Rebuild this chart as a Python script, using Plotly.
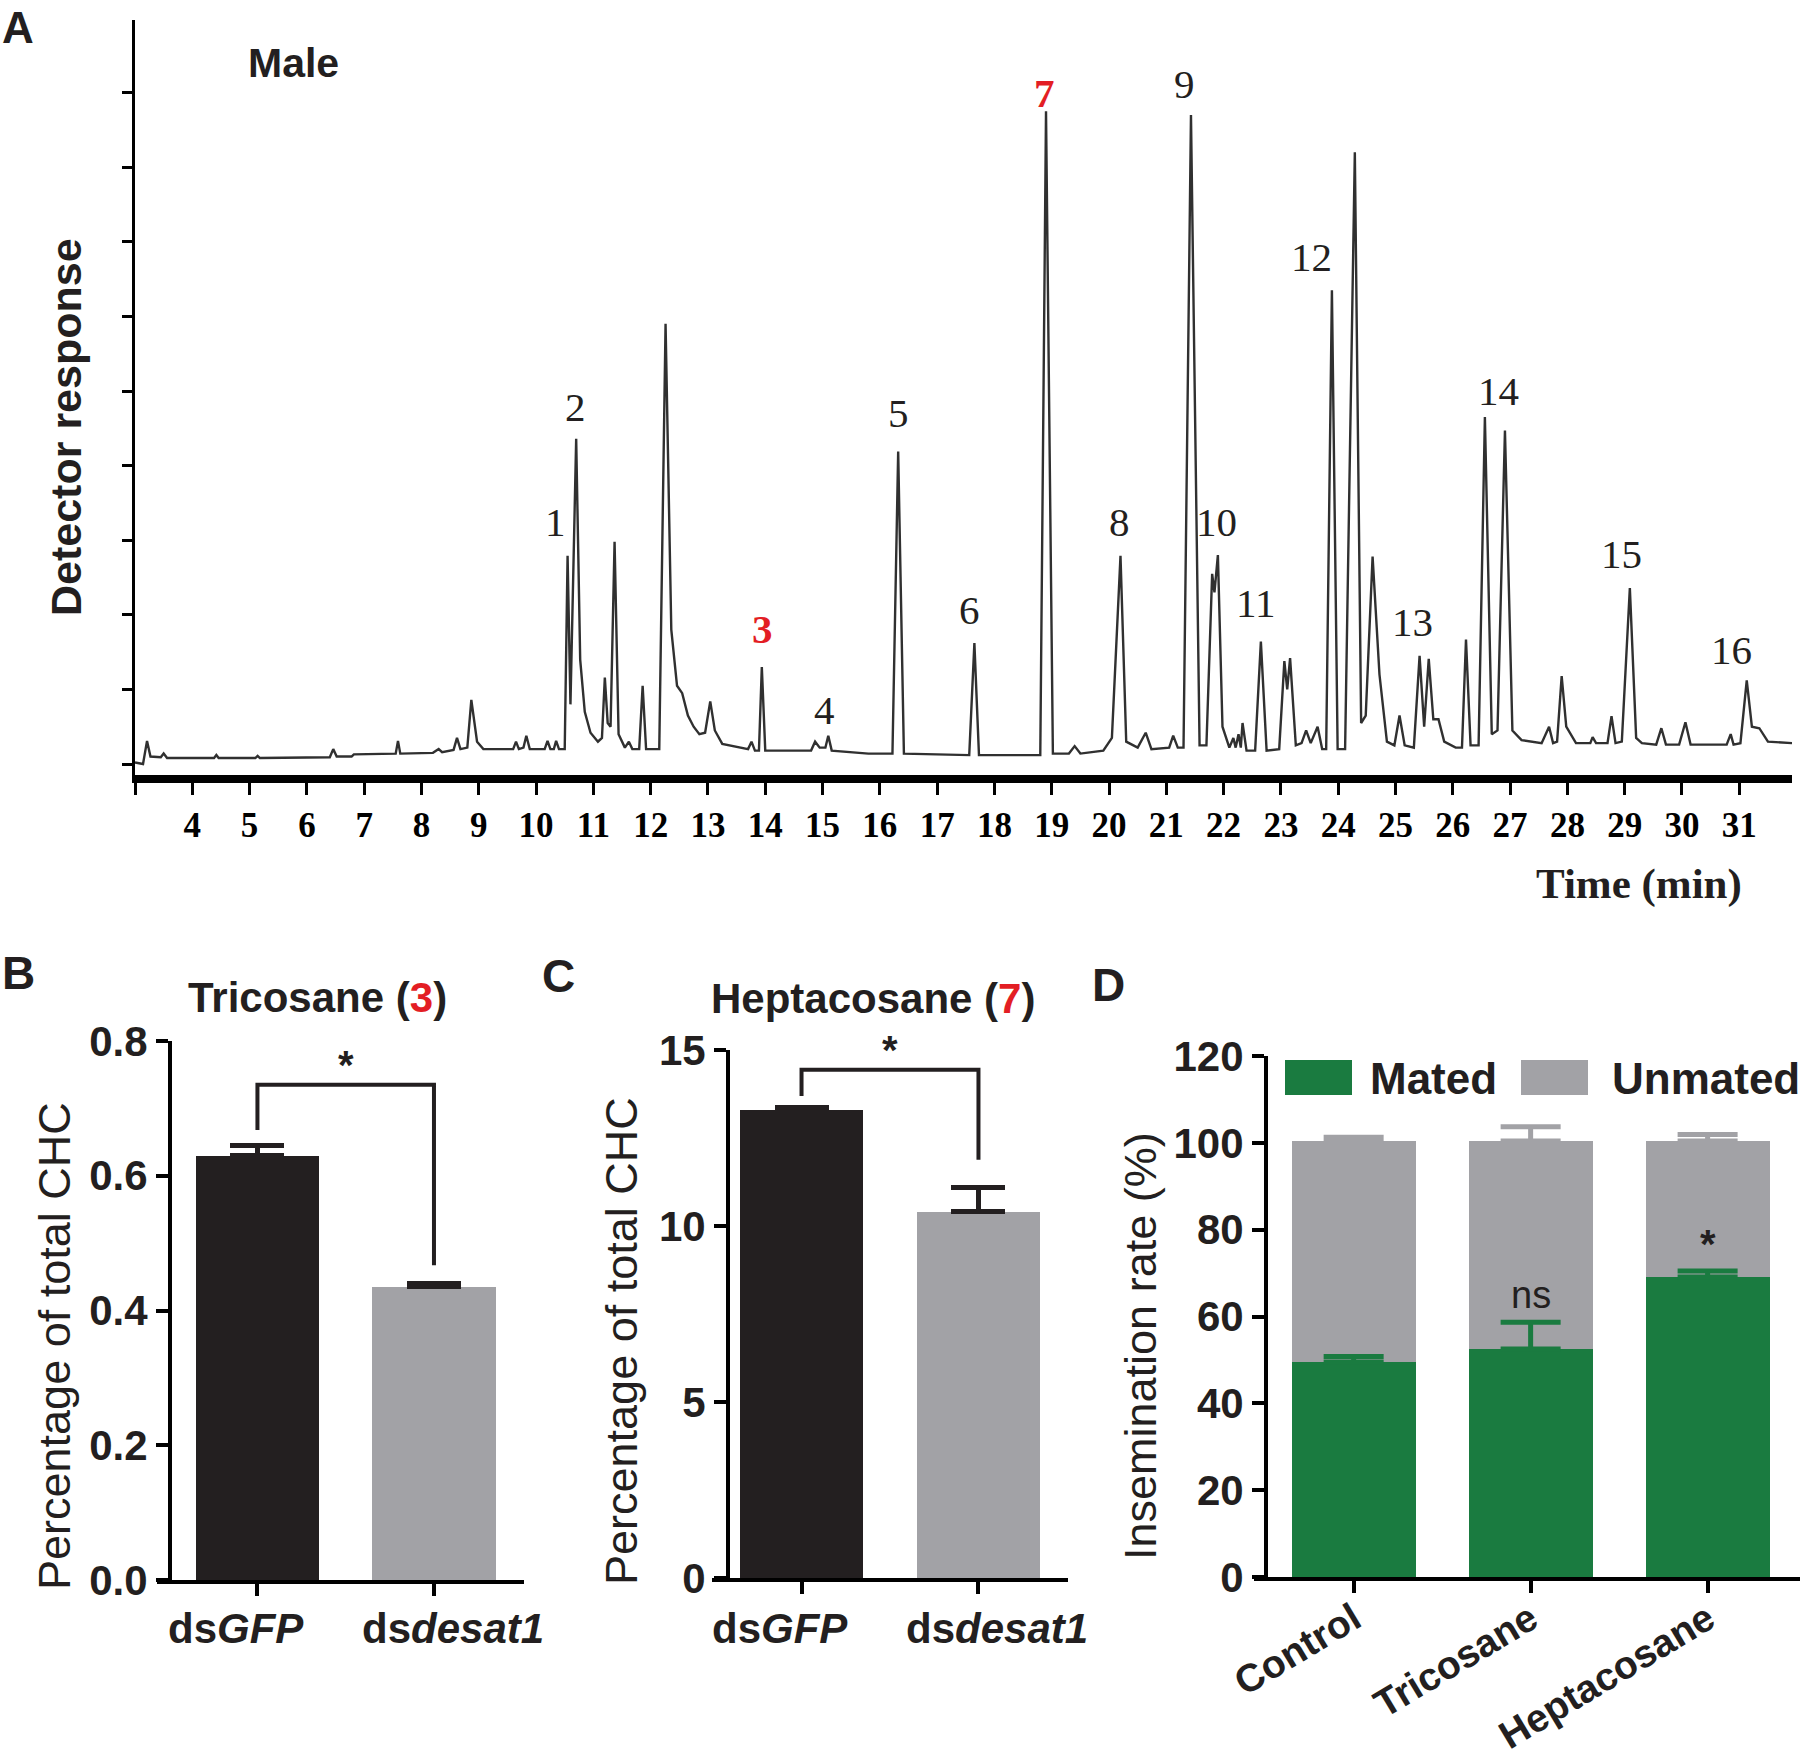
import plotly.graph_objects as go

W, H = 1800, 1749
RED = '#e31e24'
GREEN = '#1a7b40'
GRAY = '#a2a2a6'
BLACK = '#231f20'
SANS = 'Liberation Sans'
SERIF = 'Liberation Serif'

# ---------------- Panel A : chromatogram (vertices) ----------------
time_min = [3.00, 3.14, 3.21, 3.27, 3.45, 3.50, 3.56, 4.38, 4.42, 4.46, 5.10, 5.14, 5.18, 6.40, 6.46, 6.52,
            6.78, 6.82, 7.55, 7.59, 7.63, 8.20, 8.30, 8.36, 8.56, 8.62, 8.68, 8.80, 8.87, 8.97, 9.08, 9.60,
            9.65, 9.70, 9.78, 9.83, 9.89, 10.15, 10.20, 10.25, 10.31, 10.35, 10.40, 10.50, 10.55, 10.60,
            10.70, 10.77, 10.85, 10.95, 11.08, 11.15, 11.20, 11.25, 11.30, 11.37, 11.44, 11.55, 11.62,
            11.68, 11.80, 11.86, 11.92, 12.15, 12.26, 12.36, 12.46, 12.55, 12.65, 12.75, 12.85, 12.95,
            13.04, 13.12, 13.25, 13.70, 13.76, 13.82, 13.89, 13.94, 14.00, 14.80, 14.87, 14.95, 15.05,
            15.10, 15.16, 15.50, 15.80, 16.22, 16.32, 16.42, 17.20, 17.56, 17.65, 17.73, 18.80, 18.90,
            19.02, 19.30, 19.40, 19.50, 19.90, 20.05, 20.20, 20.30, 20.50, 20.64, 20.74, 21.05, 21.12,
            21.20, 21.30, 21.43, 21.58, 21.70, 21.80, 21.84, 21.90, 21.98, 22.10, 22.17, 22.21, 22.26,
            22.30, 22.33, 22.40, 22.55, 22.65, 22.75, 22.97, 23.06, 23.11, 23.16, 23.26, 23.36, 23.44,
            23.52, 23.64, 23.72, 23.79, 23.89, 23.99, 24.12, 24.29, 24.40, 24.48, 24.60, 24.72, 24.85,
            24.98, 25.07, 25.16, 25.32, 25.42, 25.50, 25.58, 25.66, 25.75, 25.85, 26.05, 26.16, 26.23,
            26.31, 26.45, 26.56, 26.68, 26.78, 26.91, 27.04, 27.20, 27.55, 27.68, 27.75, 27.82, 27.90,
            27.98, 28.15, 28.40, 28.44, 28.50, 28.70, 28.77, 28.84, 28.95, 29.09, 29.20, 29.30, 29.55,
            29.64, 29.72, 29.95, 30.06, 30.15, 30.78, 30.85, 30.90, 31.02, 31.13, 31.22, 31.35, 31.50,
            31.92]
response = [0.02, 0.00, 0.31, 0.10, 0.09, 0.14, 0.08, 0.08, 0.12, 0.08, 0.08, 0.11, 0.08, 0.09, 0.20, 0.10,
            0.10, 0.13, 0.14, 0.31, 0.14, 0.15, 0.20, 0.16, 0.19, 0.35, 0.20, 0.22, 0.86, 0.30, 0.20, 0.20,
            0.30, 0.20, 0.22, 0.38, 0.20, 0.20, 0.31, 0.20, 0.20, 0.31, 0.20, 0.20, 2.79, 0.80,
            4.36, 1.40, 0.70, 0.42, 0.30, 0.35, 1.16, 0.55, 0.50, 2.98, 0.40, 0.22, 0.30,
            0.20, 0.20, 1.05, 0.20, 0.20, 5.90, 1.80, 1.05, 0.95, 0.65, 0.50, 0.40, 0.42,
            0.84, 0.45, 0.27, 0.20, 0.30, 0.18, 0.18, 1.30, 0.18, 0.18, 0.30, 0.22, 0.22,
            0.38, 0.18, 0.16, 0.14, 0.14, 4.19, 0.14, 0.12, 0.12, 1.62, 0.12, 0.12, 8.75,
            0.14, 0.14, 0.24, 0.14, 0.18, 0.35, 2.79, 0.30, 0.22, 0.42, 0.20, 0.22, 0.38,
            0.22, 0.22, 8.70, 0.25, 0.25, 2.55, 2.30, 2.80, 0.50, 0.22, 0.35, 0.22, 0.40,
            0.22, 0.55, 0.18, 0.18, 1.64, 0.18, 0.20, 1.38, 1.00, 1.42, 0.25, 0.28, 0.45,
            0.28, 0.50, 0.20, 0.20, 6.35, 0.20, 0.20, 8.20, 0.55, 0.65, 2.78, 1.20, 0.30,
            0.25, 0.65, 0.25, 0.22, 1.45, 0.50, 1.41, 0.60, 0.60, 0.30, 0.22, 0.22, 1.67,
            0.25, 0.25, 4.65, 0.40, 0.45, 4.47, 0.45, 0.32, 0.28, 0.50, 0.28, 0.30, 1.18,
            0.50, 0.28, 0.28, 0.36, 0.28, 0.28, 0.64, 0.28, 0.30, 2.36, 0.35, 0.28, 0.26,
            0.48, 0.26, 0.26, 0.56, 0.26, 0.26, 0.40, 0.26, 0.28, 1.12, 0.50, 0.48, 0.30,
            0.28]

peak_names = ['1', '2', '3', '4', '5', '6', '7', '8', '9', '10', '11', '12', '13', '14', '15', '16']
peak_label_t = [10.34, 10.68, 13.95, 15.03, 16.33, 17.57, 18.88, 20.18, 21.32, 21.88, 22.56, 23.54,
                25.29, 26.79, 28.95, 30.87]
peak_label_y = [3.24, 4.78, 1.81, 0.73, 4.70, 2.07, 9.00, 3.24, 9.12, 3.24, 2.16, 6.79, 1.90, 5.00,
                2.81, 1.53]
highlight_peaks = ['3', '7']
time_ticks = list(range(3, 32))
time_tick_text = [''] + [str(t) for t in range(4, 32)]
response_ticks = list(range(0, 10))

# ---------------- Panel B / C ----------------
bc_labels = ['<b>ds<i>GFP</i></b>', '<b>ds<i>desat1</i></b>']
bc_label_x = [-0.12, 1.105]
b_means = [0.63, 0.435]
b_sem = [0.015, 0.005]
b_ticks = [0.0, 0.2, 0.4, 0.6, 0.8]
b_bracket = [0.668, 0.735, 0.467]   # left foot, top, right foot
b_star_y = 0.765

c_means = [13.3, 10.4]
c_sem = [0.06, 0.7]
c_ticks = [0, 5, 10, 15]
c_bracket = [13.69, 14.44, 11.88]
c_star_y = 15.0

# ---------------- Panel D ----------------
d_groups = ['Control', 'Tricosane', 'Heptacosane']
d_mated = [49.5, 52.5, 69.1]
d_mated_err = [1.3, 6.2, 1.4]
d_unmated = [50.9, 47.9, 31.3]
d_unmated_err = [0.9, 3.3, 1.5]
d_ticks = [0, 20, 40, 60, 80, 100, 120]
d_marks = ['', 'ns', '*']
d_marks_y = [0, 65.0, 76.6]


def px_x(p):
    return p / W


def px_y(p):
    return 1 - p / H


fig = go.Figure()

# Panel A trace
fig.add_trace(go.Scatter(x=time_min, y=response, mode='lines', line=dict(color='#303030', width=2.4),
                         xaxis='x', yaxis='y', showlegend=False, hoverinfo='skip'))

# Panel B bars
fig.add_trace(go.Bar(x=[0, 1], y=b_means, width=0.7, marker=dict(color=[BLACK, GRAY], line=dict(width=0)),
                     error_y=dict(type='data', array=b_sem, arrayminus=[0, 0], symmetric=False,
                                  color=BLACK, thickness=5, width=27),
                     xaxis='x2', yaxis='y2', showlegend=False))
# Panel C bars
fig.add_trace(go.Bar(x=[0, 1], y=c_means, width=0.7, marker=dict(color=[BLACK, GRAY], line=dict(width=0)),
                     error_y=dict(type='data', array=c_sem, arrayminus=[0, 0], symmetric=False,
                                  color=BLACK, thickness=5, width=27),
                     xaxis='x3', yaxis='y3', showlegend=False))
# Panel D stacked bars
dx = [0, 1, 2]
fig.add_trace(go.Bar(x=dx, y=d_mated, width=0.7, marker=dict(color=GREEN, line=dict(width=0)),
                     xaxis='x4', yaxis='y4', showlegend=False, name='Mated'))
fig.add_trace(go.Bar(x=dx, y=d_unmated, width=0.7, marker=dict(color=GRAY, line=dict(width=0)),
                     xaxis='x4', yaxis='y4', showlegend=False, name='Unmated'))
d_total = [m + u for m, u in zip(d_mated, d_unmated)]
fig.add_trace(go.Scatter(x=dx, y=d_total, mode='markers', marker=dict(size=2, opacity=0),
                         error_y=dict(type='data', array=d_unmated_err, arrayminus=[0, 0, 0], symmetric=False,
                                      color=GRAY, thickness=5, width=30),
                         xaxis='x4', yaxis='y4', showlegend=False, hoverinfo='skip'))
fig.add_trace(go.Scatter(x=dx, y=d_mated, mode='markers', marker=dict(size=2, opacity=0),
                         error_y=dict(type='data', array=d_mated_err, arrayminus=[0, 0, 0], symmetric=False,
                                      color=GREEN, thickness=5, width=30),
                         xaxis='x4', yaxis='y4', showlegend=False, hoverinfo='skip'))

axis_common = dict(showgrid=False, zeroline=False, showline=True, linecolor='black', ticks='outside',
                   tickcolor='black', automargin=False)

sans_tick = dict(family=SANS, size=42, color=BLACK)

fig.update_layout(
    template='none',
    width=W, height=H, margin=dict(l=0, r=0, t=0, b=0, pad=0, autoexpand=False),
    paper_bgcolor='white', plot_bgcolor='white', showlegend=False, barmode='stack',
    xaxis=dict(domain=[px_x(135), px_x(1792)], anchor='y', range=[3, 31.92], linewidth=8,
               ticklen=12, tickwidth=2.5, tickvals=time_ticks, ticktext=time_tick_text,
               tickfont=dict(family=SERIF, size=35, color='black', weight='bold'), **axis_common),
    yaxis=dict(domain=[px_y(775), px_y(20)], anchor='x', range=[-0.147, 9.973], linewidth=2.5,
               ticklen=10, tickwidth=3, tickvals=response_ticks, showticklabels=False, **axis_common),
    xaxis2=dict(domain=[px_x(157), px_x(524)], anchor='y2', range=[-0.569, 1.51], linewidth=4,
                ticklen=12, tickwidth=4, tickvals=[0, 1], showticklabels=False, **axis_common),
    yaxis2=dict(domain=[px_y(1580), px_y(1041)], anchor='free', position=px_x(170), range=[0, 0.8],
                linewidth=4, ticklen=12, tickwidth=4, tickvals=b_ticks,
                ticktext=['<b>%.1f</b>' % v for v in b_ticks], tickfont=sans_tick, **axis_common),
    xaxis3=dict(domain=[px_x(712), px_x(1068)], anchor='y3', range=[-0.506, 1.506], linewidth=4,
                ticklen=12, tickwidth=4, tickvals=[0, 1], showticklabels=False, **axis_common),
    yaxis3=dict(domain=[px_y(1578), px_y(1050)], anchor='free', position=px_x(728), range=[0, 15],
                linewidth=4, ticklen=12, tickwidth=4, tickvals=c_ticks,
                ticktext=['<b>%d</b>' % v for v in c_ticks], tickfont=sans_tick, **axis_common),
    xaxis4=dict(domain=[px_x(1254), 1.0], anchor='y4', range=[-0.563, 2.522], linewidth=4,
                ticklen=12, tickwidth=4, tickvals=dx, ticktext=['<b>%s</b>' % g for g in d_groups],
                tickangle=-31, ticklabelstandoff=-12, tickfont=dict(family=SANS, size=39, color=BLACK),
                **axis_common),
    yaxis4=dict(domain=[px_y(1577), px_y(1056)], anchor='free', position=px_x(1266), range=[0, 120],
                linewidth=4, ticklen=12, tickwidth=4, tickvals=d_ticks,
                ticktext=['<b>%d</b>' % v for v in d_ticks], tickfont=sans_tick, **axis_common),
)

ann = []


def add_text(x, y, text, size, family=SANS, color=BLACK, xref='paper', yref='paper', angle=0,
             xanchor='center'):
    ann.append(dict(x=x, y=y, xref=xref, yref=yref, text=text, showarrow=False, textangle=angle,
                    xanchor=xanchor, yanchor='middle', font=dict(family=family, size=size, color=color)))


# Panel A labels
for name, t, y in zip(peak_names, peak_label_t, peak_label_y):
    hl = name in highlight_peaks
    add_text(t, y, ('<b>%s</b>' % name) if hl else name, 41, family=SERIF, color=RED if hl else BLACK,
             xref='x', yref='y')
add_text(px_x(256 * 1.148), px_y(55 * 1.148), '<b>Male</b>', 41)
add_text(px_x(1639), px_y(884), '<b>Time (min)</b>', 43, family=SERIF)
add_text(px_x(66), px_y(427), '<b>Detector response</b>', 43, angle=-90)

# Panel letters
for letter, (lx, ly) in zip(['A', 'B', 'C', 'D'], [(18, 27), (18, 973), (558, 976), (1108, 985)]):
    add_text(px_x(lx), px_y(ly), '<b>%s</b>' % letter, 44 if letter == 'A' else 46)

# Panel titles
add_text(px_x(317), px_y(998), "<b>Tricosane (<span style='color:%s'>3</span>)</b>" % RED, 42)
add_text(px_x(873), px_y(999), "<b>Heptacosane (<span style='color:%s'>7</span>)</b>" % RED, 42)

# x category labels of B and C
for xr in ['x2', 'x3']:
    for lx, lab in zip(bc_label_x, bc_labels):
        add_text(lx, px_y(1628), lab, 42, xref=xr)

# y titles
for txt, (tx, ty) in zip(['Percentage of total CHC', 'Percentage of total CHC', 'Insemination rate (%)'],
                         [(54, 1346), (621, 1341), (1140, 1346)]):
    add_text(px_x(tx), px_y(ty), txt, 45, angle=-90)

# significance stars
add_text(0.5, b_star_y, '<b>*</b>', 40, xref='x2', yref='y2')
add_text(0.5, c_star_y, '<b>*</b>', 40, xref='x3', yref='y3')
for xi, m, my in zip(dx, d_marks, d_marks_y):
    if m:
        add_text(xi, my, m if m != '*' else '<b>*</b>', 38 if m == 'ns' else 40, xref='x4', yref='y4')

# Legend for D
add_text(px_x(1368), px_y(1078), '<b>Mated</b>', 44, xanchor='left')
add_text(px_x(1610), px_y(1078), '<b>Unmated</b>', 44, xanchor='left')

shapes = []
shapes.append(dict(type='rect', xref='paper', yref='paper', x0=px_x(1285), x1=px_x(1352), y0=px_y(1095),
                   y1=px_y(1060), fillcolor=GREEN, line=dict(width=0)))
shapes.append(dict(type='rect', xref='paper', yref='paper', x0=px_x(1521), x1=px_x(1588), y0=px_y(1095),
                   y1=px_y(1060), fillcolor=GRAY, line=dict(width=0)))
# brackets
for (xr, yr, br) in [('x2', 'y2', b_bracket), ('x3', 'y3', c_bracket)]:
    shapes.append(dict(type='path', xref=xr, yref=yr,
                       path='M 0 %g L 0 %g L 1 %g L 1 %g' % (br[0], br[1], br[1], br[2]),
                       line=dict(color=BLACK, width=4)))

fig.update_layout(annotations=ann, shapes=shapes)
fig.write_html('out.html', config={'displayModeBar': False},
               post_script="document.body.style.margin='0px';")
